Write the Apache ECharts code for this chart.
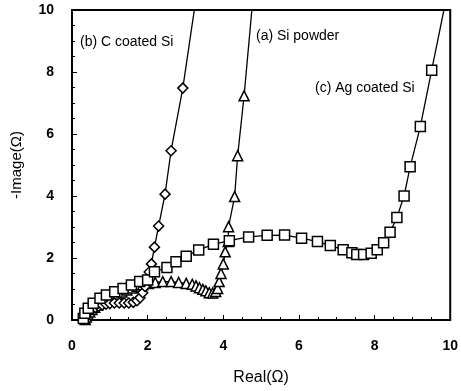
<!DOCTYPE html>
<html><head><meta charset="utf-8">
<script src="https://cdn.jsdelivr.net/npm/echarts@6/dist/echarts.min.js"></script>
<style>html,body{margin:0;padding:0;background:#fff}#c{width:461px;height:391px}</style>
</head><body><div id="c"></div>
<script>
// (a) Si powder — triangles
const siX = [0.35,0.38,0.42,0.47,0.53,0.60,0.68,0.77,0.87,0.97,1.08,1.20,1.32,1.45,1.58,1.72,1.87,2.02,2.20,2.40,2.62,2.82,3.02,3.18,3.28,3.37,3.46,3.54,3.63,3.72,3.80,3.85,3.89,3.94,4.00,4.05,4.13,4.14,4.30,4.38,4.55,4.80];
const siY = [0.02,0.10,0.18,0.26,0.34,0.41,0.48,0.55,0.62,0.69,0.76,0.83,0.90,0.97,1.03,1.09,1.14,1.18,1.21,1.24,1.24,1.21,1.18,1.15,1.10,1.04,0.99,0.94,0.88,0.87,0.92,1.02,1.24,1.50,1.81,2.20,2.53,3.01,3.98,5.30,7.23,10.6];
// (b) C coated Si — diamonds
const cX = [0.30,0.33,0.37,0.42,0.48,0.55,0.62,0.70,0.80,0.90,1.00,1.12,1.25,1.38,1.50,1.62,1.72,1.80,1.87,1.93,1.98,2.04,2.10,2.18,2.29,2.46,2.62,2.93,3.33];
const cY = [0.02,0.10,0.18,0.25,0.31,0.36,0.40,0.44,0.48,0.51,0.53,0.55,0.55,0.55,0.55,0.57,0.62,0.72,0.88,1.08,1.30,1.55,1.81,2.35,3.03,4.06,5.46,7.48,10.8];
// (c) Ag coated Si — squares
const agX = [0.30,0.34,0.43,0.56,0.74,0.91,1.13,1.35,1.57,1.79,2.00,2.18,2.51,2.75,3.02,3.35,3.74,4.16,4.67,5.16,5.62,6.07,6.49,6.83,7.17,7.40,7.53,7.71,7.91,8.07,8.24,8.41,8.59,8.78,8.94,9.21,9.51,9.95];
const agY = [0.05,0.22,0.38,0.54,0.70,0.81,0.91,1.02,1.13,1.24,1.29,1.56,1.69,1.88,2.06,2.26,2.44,2.56,2.68,2.73,2.74,2.64,2.53,2.40,2.27,2.17,2.11,2.11,2.15,2.27,2.49,2.83,3.31,4.00,4.94,6.24,8.06,10.7];

const xTicks = [0,2,4,6,8,10];
const yTicks = [0,2,4,6,8,10];
const seriesNames = ['(a) Si powder','(b) C coated Si','(c) Ag coated Si'];

const zip = (xs, ys) => xs.map((x, i) => [x, ys[i]]);
const font = 'Liberation Sans, Arial, sans-serif';

function mk(name, xs, ys, symbol, size) {
  return {
    name, type: 'line', data: zip(xs, ys), symbol, symbolSize: size,
    clip: true, showAllSymbol: true,
    lineStyle: { color: '#000', width: 1.3 },
    itemStyle: { color: '#fff', borderColor: '#000', borderWidth: 1.5 },
    emphasis: { disabled: true }, animation: false, z: 3
  };
}

const chart = echarts.init(document.getElementById('c'), null, { renderer: 'canvas' });
chart.setOption({
  animation: false,
  grid: { left: 72, right: 9, top: 10, bottom: 71, show: true, borderColor: '#000', borderWidth: 2, backgroundColor: 'transparent' },
  xAxis: {
    type: 'value', min: xTicks[0], max: xTicks[xTicks.length - 1], interval: 2,
    name: 'Real(Ω)', nameLocation: 'middle', nameGap: 50,
    nameTextStyle: { fontFamily: font, fontSize: 16, color: '#000' },
    axisLine: { lineStyle: { color: '#000', width: 2 } },
    axisTick: { inside: true, length: 5, lineStyle: { color: '#000', width: 1 } },
    minorTick: { show: true, splitNumber: 4, length: 3, lineStyle: { color: '#000' } },
    axisLabel: { fontFamily: font, fontSize: 14, fontWeight: 'bold', color: '#000', margin: 19 },
    splitLine: { show: false }
  },
  yAxis: {
    type: 'value', min: yTicks[0], max: yTicks[yTicks.length - 1], interval: 2,
    name: '-Image(Ω)', nameLocation: 'middle', nameGap: 48, nameRotate: 90,
    nameTextStyle: { fontFamily: font, fontSize: 15, color: '#000' },
    axisLine: { lineStyle: { color: '#000', width: 2 } },
    axisTick: { inside: true, length: 5, lineStyle: { color: '#000', width: 1 } },
    minorTick: { show: true, splitNumber: 4, length: 3, lineStyle: { color: '#000' } },
    axisLabel: { fontFamily: font, fontSize: 14, fontWeight: 'bold', color: '#000', margin: 18 },
    splitLine: { show: false }
  },
  series: [
    mk(seriesNames[0], siX, siY, 'triangle', 10),
    mk(seriesNames[1], cX, cY, 'diamond', 10),
    mk(seriesNames[2], agX, agY, 'rect', 10)
  ],
  graphic: [
    { type: 'text', left: 80, top: 35, style: { text: seriesNames[1], font: '14px ' + font, fill: '#000' } },
    { type: 'text', left: 256, top: 29, style: { text: seriesNames[0], font: '14px ' + font, fill: '#000' } },
    { type: 'text', left: 315, top: 81, style: { text: seriesNames[2], font: '14px ' + font, fill: '#000' } }
  ]
});
</script></body></html>
